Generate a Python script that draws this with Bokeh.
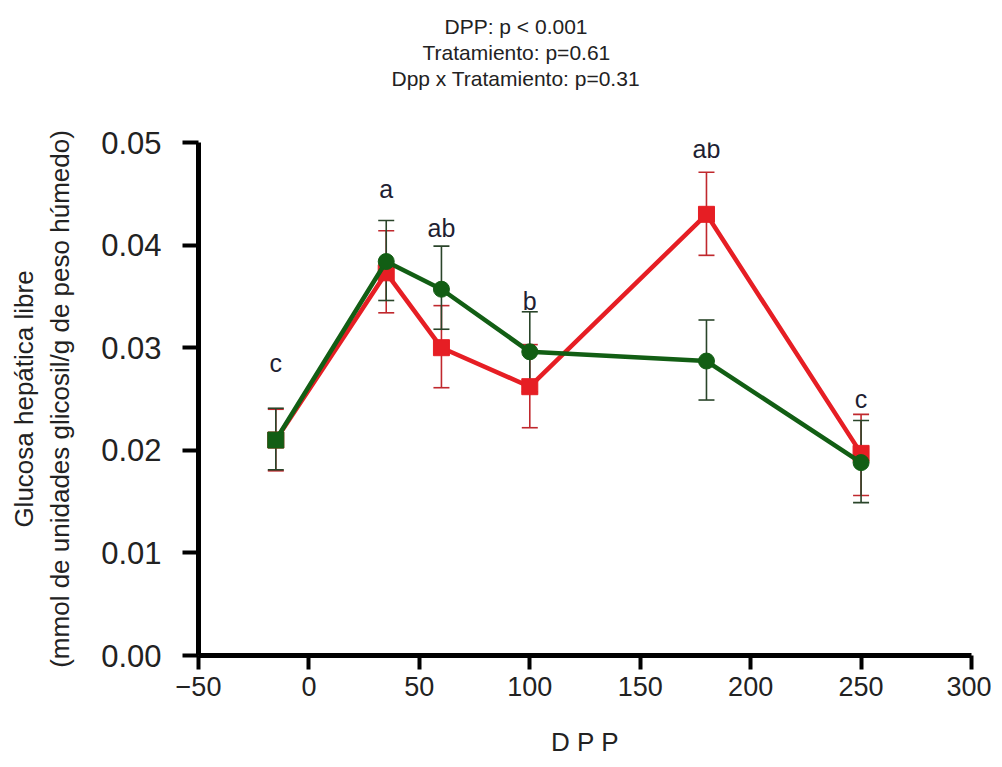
from bokeh.plotting import figure
from bokeh.models import ColumnDataSource, Whisker, TeeHead, Title, FixedTicker, PrintfTickFormatter, Range1d
from bokeh.core.properties import value
from bokeh.embed import file_html
from bokeh.resources import INLINE

# ---- data ----
dpp = [-15, 35, 60, 100, 180, 250]
red_mean = [0.0210, 0.0373, 0.0300, 0.0262, 0.0430, 0.0197]
red_upper = [0.0240, 0.0414, 0.0341, 0.0303, 0.0471, 0.0235]
red_lower = [0.0180, 0.0334, 0.0261, 0.0222, 0.0390, 0.0156]
green_mean = [0.0210, 0.0384, 0.0357, 0.0296, 0.0287, 0.0188]
green_upper = [0.0241, 0.0424, 0.0399, 0.0335, 0.0327, 0.0229]
green_lower = [0.0181, 0.0346, 0.0318, 0.0257, 0.0249, 0.0149]
green_markers = ["square", "circle", "circle", "circle", "circle", "circle"]
letters = ["c", "a", "ab", "b", "ab", "c"]
letter_y = [0.0285, 0.0455, 0.0417, 0.0346, 0.0494, 0.0250]
x_ticks = [-50, 0, 50, 100, 150, 200, 250, 300]
y_ticks = [0.0, 0.01, 0.02, 0.03, 0.04, 0.05]
title_lines = ["DPP: p < 0.001", "Tratamiento: p=0.61", "Dpp x Tratamiento: p=0.31"]
title_offsets = [246, 224, 193]

RED = "#e61e24"
GREEN = "#125e14"
RED_ERR = "#c0282d"
GREEN_ERR = "#2a452a"
FONT = "Liberation Sans"

p = figure(width=991, height=759, output_backend="svg", toolbar_location=None,
           x_range=Range1d(-50, 300), y_range=Range1d(0, 0.05),
           min_border_left=198, min_border_right=20, min_border_top=142, min_border_bottom=102)
p.grid.visible = False
p.outline_line_color = None
p.background_fill_color = "white"

for ax in (p.xaxis[0], p.yaxis[0]):
    ax.axis_line_width = 5
    ax.axis_line_color = "black"
    ax.major_tick_line_width = 4
    ax.major_tick_line_color = "black"
    ax.minor_tick_line_color = None
    ax.major_tick_in = 0
    ax.major_label_text_font = FONT
    ax.major_label_text_color = "#222222"
    ax.axis_label_text_font = FONT
    ax.axis_label_text_font_style = "normal"
    ax.axis_label_text_color = "#222222"

p.xaxis.ticker = FixedTicker(ticks=x_ticks)
p.xaxis.major_tick_out = 14
p.xaxis.major_label_text_font_size = "27px"
p.xaxis.major_label_standoff = 7
p.xaxis.axis_label = "D P P"
p.xaxis.axis_label_text_font_size = "26px"
p.xaxis.axis_label_standoff = 28

p.yaxis.ticker = FixedTicker(ticks=y_ticks)
p.yaxis.formatter = PrintfTickFormatter(format="%.2f")
p.yaxis.major_tick_out = 16
p.yaxis.major_label_text_font_size = "31px"
p.yaxis.major_label_standoff = 21
p.yaxis.axis_label = "Glucosa hepática libre\n(mmol de unidades glicosil/g de peso húmedo)"
p.yaxis.axis_label_text_font_size = "26px"
p.yaxis.axis_label_standoff = 23

src_r = ColumnDataSource(dict(x=dpp, y=red_mean, up=red_upper, lo=red_lower))
src_g = ColumnDataSource(dict(x=dpp, y=green_mean, up=green_upper, lo=green_lower, m=green_markers))

p.add_layout(Whisker(source=src_r, base="x", upper="up", lower="lo", line_color=RED_ERR, line_width=1.6,
                     upper_head=TeeHead(size=16, line_color=RED_ERR, line_width=1.6),
                     lower_head=TeeHead(size=16, line_color=RED_ERR, line_width=1.6)))
p.add_layout(Whisker(source=src_g, base="x", upper="up", lower="lo", line_color=GREEN_ERR, line_width=1.6,
                     upper_head=TeeHead(size=16, line_color=GREEN_ERR, line_width=1.6),
                     lower_head=TeeHead(size=16, line_color=GREEN_ERR, line_width=1.6)))

p.line("x", "y", source=src_r, line_color=RED, line_width=4.5)
p.scatter("x", "y", source=src_r, marker="square", size=16, fill_color=RED, line_color=RED)
p.line("x", "y", source=src_g, line_color=GREEN, line_width=4.5)
p.scatter("x", "y", source=src_g, marker="m", size=16, fill_color=GREEN, line_color=GREEN)

p.text(x=dpp, y=letter_y, text=letters, text_font=value(FONT), text_font_size="25px",
       text_color="#1f1f33", text_align="center", text_baseline="middle")

# spacer between the plot area and the three heading lines
p.add_layout(Title(text=" ", text_font_size="21px", standoff=27), "above")
# heading lines (added bottom line first; later ones stack above)
for i in range(len(title_lines) - 1, -1, -1):
    p.add_layout(Title(text=title_lines[i], align="left", offset=title_offsets[i], text_font=FONT,
                       text_font_size="21px", text_font_style="normal", text_color="#222222",
                       standoff=1), "above")

open("out.html", "w").write(file_html(p, INLINE))
